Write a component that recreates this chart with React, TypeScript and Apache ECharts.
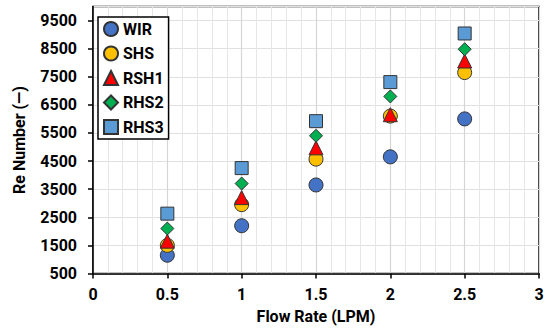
import React, { useEffect, useRef } from "react";
import * as echarts from "echarts";

const flowRates = [0.5, 1, 1.5, 2, 2.5];
const wir = [1150, 2200, 3650, 4650, 6000];
const shs = [1500, 2950, 4570, 6100, 7650];
const rsh1 = [1650, 3200, 4970, 6150, 8060];
const rhs2 = [2100, 3700, 5400, 6800, 8480];
const rhs3 = [2630, 4250, 5920, 7310, 9040];

const seriesNames = ["WIR", "SHS", "RSH1", "RHS2", "RHS3"];
const seriesColors = ["#4472C4", "#FFC000", "#FF0000", "#00B050", "#5B9BD5"];
const seriesSymbols = ["circle", "circle", "triangle", "diamond", "rect"];
const seriesSizes = [14, 14, 14, 13, 13];
const seriesValues = [wir, shs, rsh1, rhs2, rhs3];

const FONT = "Roboto, 'DejaVu Sans', sans-serif";

export default function App() {
  const ref = useRef<HTMLDivElement>(null);
  useEffect(() => {
    if (!ref.current) return;
    const chart = echarts.init(ref.current, null, { renderer: "svg" });
    chart.setOption({
      animation: false,
      backgroundColor: "#fff",
      textStyle: { fontFamily: FONT },
      grid: {
        left: 93,
        right: 11,
        top: 6.5,
        bottom: 58.5,
        show: true,
        borderColor: "#000",
        borderWidth: 1.5,
        backgroundColor: "transparent",
      },
      legend: {
        orient: "vertical",
        left: 98,
        top: 17,
        padding: [4, 5, 4, 5],
        itemGap: 8.5,
        itemWidth: 14,
        itemHeight: 14,
        backgroundColor: "#fff",
        borderColor: "#000",
        borderWidth: 1.5,
        borderRadius: 0,
        textStyle: { fontFamily: FONT, fontWeight: "bold", fontSize: 16, color: "#000" },
        data: seriesNames,
      },
      xAxis: {
        type: "value",
        min: 0,
        max: 3,
        interval: 0.5,
        name: "Flow Rate (LPM)",
        nameLocation: "middle",
        nameGap: 35,
        nameTextStyle: { fontFamily: FONT, fontWeight: "bold", fontSize: 16, color: "#000" },
        axisLine: { show: true, lineStyle: { color: "#000", width: 1.5 } },
        axisTick: { show: true, inside: false, length: 5, lineStyle: { color: "#000", width: 1.5 } },
        axisLabel: { margin: 13, fontFamily: FONT, fontWeight: "bold", fontSize: 16, color: "#000" },
        splitLine: { show: true, lineStyle: { color: "#d6d6d6", width: 1.2 } },
        minorTick: { show: false, splitNumber: 5 },
        minorSplitLine: { show: true, lineStyle: { color: "#e6e6e6", width: 1 } },
      },
      yAxis: {
        type: "value",
        min: 500,
        max: 10000,
        interval: 1000,
        name: "Re Number (\u2014)",
        nameLocation: "middle",
        nameGap: 66,
        nameTextStyle: { fontFamily: FONT, fontWeight: "bold", fontSize: 16, color: "#000" },
        axisLine: { show: true, lineStyle: { color: "#000", width: 1.5 } },
        axisTick: { show: true, inside: false, length: 5, lineStyle: { color: "#000", width: 1.5 } },
        axisLabel: {
          margin: 16,
          showMaxLabel: false,
          formatter: (v: number) => String(v),
          fontFamily: FONT,
          fontWeight: "bold",
          fontSize: 16,
          color: "#000",
        },
        splitLine: { show: true, lineStyle: { color: "#e0e0e0", width: 1.2 } },
      },
      series: seriesNames.map((name, i) => ({
        name,
        type: "scatter",
        symbol: seriesSymbols[i],
        symbolSize: seriesSizes[i],
        itemStyle: { color: seriesColors[i], borderColor: "#333", borderWidth: 1, opacity: 1 },
        z: 2 + i,
        data: flowRates.map((x, j) => [x, seriesValues[i][j]]),
      })),
    });
    return () => chart.dispose();
  }, []);
  return <div ref={ref} style={{ width: 550, height: 332, position: "absolute", left: 0, top: 0 }} />;
}
